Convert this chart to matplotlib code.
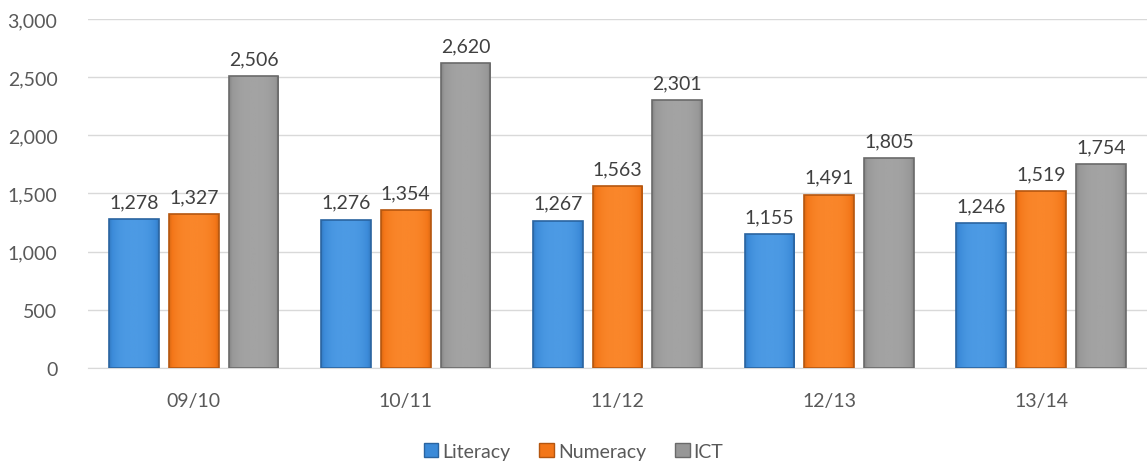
import numpy as np
import matplotlib
matplotlib.use('Agg')
import matplotlib.pyplot as plt
from matplotlib.patches import Patch
from matplotlib.colors import LinearSegmentedColormap

years = ['09/10', '10/11', '11/12', '12/13', '13/14']
literacy = [1278, 1276, 1267, 1155, 1246]
numeracy = [1327, 1354, 1563, 1491, 1519]
ict = [2506, 2620, 2301, 1805, 1754]
series_names = ['Literacy', 'Numeracy', 'ICT']

plt.rcParams['font.family'] = ['Lato', 'DejaVu Sans']

colours = ['#3b8ad8', '#f37618', '#979797']
lights = ['#4c9ae4', '#fa862a', '#a3a3a3']
edges = ['#2a64a0', '#b5560f', '#6a6a6a']
txt = '#595959'

fig = plt.figure(figsize=(11.47, 4.64), dpi=100)
ax = fig.add_axes([0.0767, 0.2047, 0.9233, 0.7523])

x = np.arange(len(years))
width = 0.235
step = 0.282
# horizontal shading across each bar: darker edges, lighter middle
grad = np.abs(np.linspace(-1, 1, 64))[None, :]
for i, vals in enumerate([literacy, numeracy, ict]):
    pos = x + (i - 1) * step
    bars = ax.bar(pos, vals, width, color=colours[i], edgecolor='none', zorder=3)
    cmap = LinearSegmentedColormap.from_list('b%d' % i, [lights[i], colours[i], edges[i]])
    for b in bars:
        bx, by = b.get_x(), b.get_y()
        im = ax.imshow(grad ** 3, cmap=cmap, aspect='auto', zorder=3.5, vmin=0, vmax=1.4,
                       extent=[bx, bx + b.get_width(), by, by + b.get_height()])
        im.set_clip_path(b)
    # outline on top of the shading
    ax.bar(pos, vals, width, fill=False, edgecolor=edges[i], linewidth=1.2, zorder=4)
    for p, v in zip(pos, vals):
        ax.text(p, v + 75, '{:,}'.format(v), ha='center', va='bottom', fontsize=14, color='#404040')

ax.set_ylim(0, 3000)
ax.set_xlim(-0.5, len(years) - 0.5)
ax.set_yticks(np.arange(0, 3001, 500))
ax.set_yticklabels(['{:,}'.format(v) for v in range(0, 3001, 500)])
ax.set_xticks(x)
ax.set_xticklabels(years)
ax.tick_params(axis='both', length=0, labelsize=14, labelcolor=txt)
ax.tick_params(axis='y', pad=22)
ax.tick_params(axis='x', pad=17)
ax.grid(axis='y', color='#d9d9d9', linewidth=1, zorder=0)
for s in ['top', 'right', 'left']:
    ax.spines[s].set_visible(False)
ax.spines['bottom'].set_color('#d9d9d9')

handles = [Patch(facecolor=colours[i], edgecolor=edges[i]) for i in range(3)]
fig.legend(handles, series_names, loc='center', bbox_to_anchor=(0.5, 0.025), ncol=3,
           frameon=False, fontsize=14, labelcolor=txt, handlelength=0.75, handleheight=0.75,
           handletextpad=0.2, columnspacing=1.5)

fig.savefig('out.png', dpi=100)
